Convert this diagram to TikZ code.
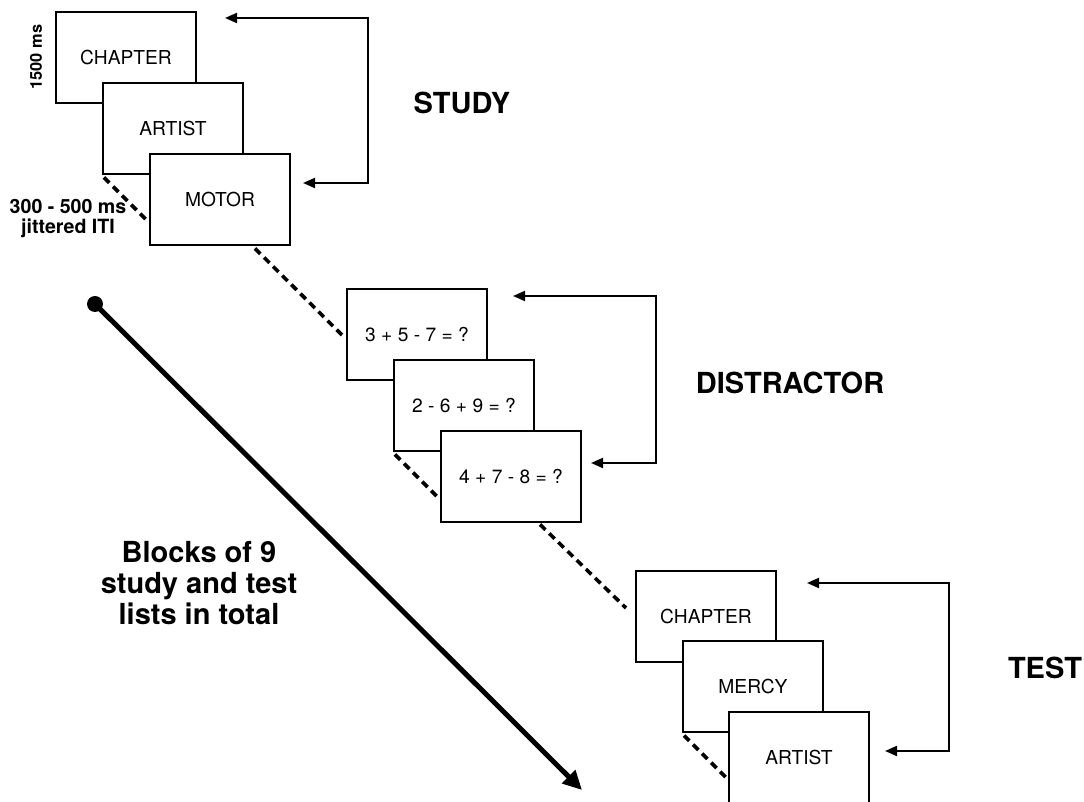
\documentclass[tikz,border=0pt]{standalone}
\usepackage{fontspec}
\setmainfont{TeX Gyre Heros}
\usetikzlibrary{arrows.meta,calc}

\tikzset{
  card/.style={draw, line width=1pt, fill=white, minimum width=70pt, minimum height=45.5pt,
    font=\fontsize{9.6}{11}\selectfont},
  phase/.style={font=\fontsize{14.5}{17}\selectfont\bfseries},
  loopline/.style={line width=1pt, {Triangle[length=6pt,width=5pt]}-{Triangle[length=6pt,width=5pt]}},
  isi/.style={line width=1.8pt, dash pattern=on 3.8pt off 2.6pt},
}

\begin{document}
\begin{tikzpicture}[x=0.5pt, y=-0.5pt]
    \useasboundingbox (0,0) rectangle (1084,802);
    \clip (0,0) rectangle (1084,802);

    % study
    \node[card] (s1) at (126,58) {CHAPTER};
    \node[card] (s2) at (173,129) {ARTIST};
    \node[card] (s3) at (220,200) {MOTOR};
    \node[phase] (study) at (462,103) {STUDY};
    \node[rotate=90, font=\fontsize{8.2}{10}\selectfont\bfseries] (dur) at (36,57) {1500 ms};
    \draw[isi] ($(s2.south west)+(2,2)$) -- ++(44,44);
    \node[align=center, font=\fontsize{9.8}{10}\selectfont\bfseries] (iti) at (68,219) {300 - 500 ms\\jittered ITI};

    \coordinate (sa) at (225,18);
    \coordinate (sc) at (368,183);
    \coordinate (sb) at (303,183);
    \draw[loopline] (sa) -| (sc) -- (sb);

    % distractor
    \node[card] (d1) at (417,335) {3 + 5 - 7 = ?};
    \node[card] (d2) at (464,406) {2 - 6 + 9 = ?};
    \node[card] (d3) at (511,477) {4 + 7 - 8 = ?};
    \node[phase] (distr) at (790,383) {DISTRACTOR};
    \draw[isi] ($(d2.south west)+(2,2)$) -- ++(43,43);

    \coordinate (da) at (513,296);
    \coordinate (dc) at (656,463);
    \coordinate (db) at (591,463);
    \draw[loopline] (da) -| (dc) -- (db);

    % test
    \node[card] (t1) at (706,617) {CHAPTER};
    \node[card] (t2) at (753,687) {MERCY};
    \node[card] (t3) at (799,758) {ARTIST};
    \node[phase] (test) at (1045,668) {TEST};
    \draw[isi] ($(t2.south west)+(2,2)$) -- ++(42,42);

    \coordinate (ta) at (807,583);
    \coordinate (tc) at (949,751);
    \coordinate (tb) at (885,751);
    \draw[loopline] (ta) -| (tc) -- (tb);

    % between phases
    \draw[isi] ($(s3.south)+(35,2)$) -- ($(d1.west)+(-4,0)$);
    \draw[isi] ($(d3.south)+(29,1)$) -- ($(t1.west)+(-9,-9)$);

    % blocks
    \node[circle, fill, inner sep=0pt, minimum size=8pt] (start) at (95,304) {};
    \coordinate (end) at (582,790);
    \draw[line width=2.5pt, -{Triangle[length=9.5pt,width=9pt]}] (start.center) -- (end);
    \node[align=center, font=\fontsize{14.5}{15.5}\selectfont\bfseries] (blocks) at (199,583)
      {Blocks of 9\\study and test\\lists in total};
\end{tikzpicture}
\end{document}
